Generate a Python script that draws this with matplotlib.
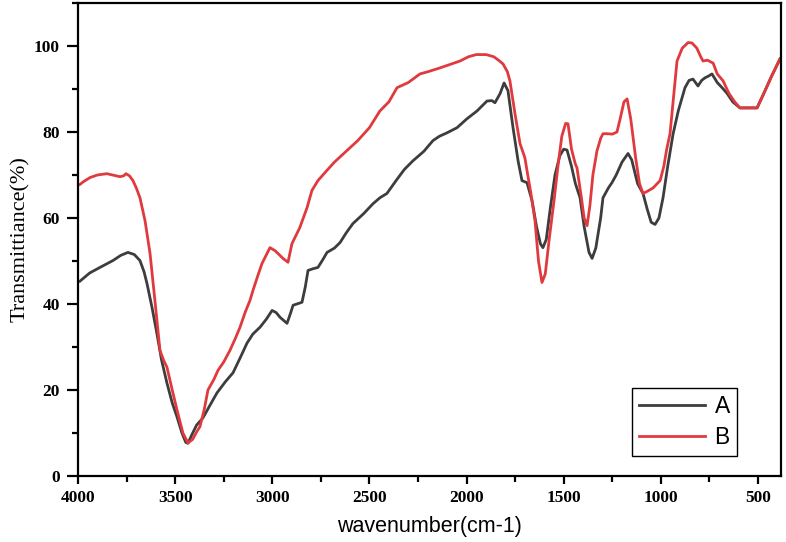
import numpy as np
import matplotlib
matplotlib.use("Agg")
import matplotlib.pyplot as plt
from matplotlib.ticker import MultipleLocator

# sample A (dark gray)
wn_a = [3990, 3940, 3887, 3820, 3780, 3743, 3710, 3681, 3660, 3645, 3619, 3594, 3570,
        3542, 3515, 3490, 3465, 3445, 3434, 3415, 3390, 3357, 3320, 3285, 3240, 3202,
        3165, 3130, 3100, 3063, 3030, 3001, 2980, 2960, 2924, 2905, 2893, 2847, 2830,
        2816, 2790, 2765, 2740, 2718, 2680, 2651, 2620, 2585, 2530, 2482, 2446, 2410,
        2358, 2320, 2276, 2220, 2173, 2140, 2101, 2049, 2000, 1946, 1895, 1870, 1854,
        1828, 1807, 1787, 1761, 1735, 1715, 1689, 1663, 1640, 1620, 1607, 1590, 1570,
        1545, 1520, 1500, 1483, 1460, 1440, 1416, 1395, 1370, 1354, 1335, 1310, 1298,
        1270, 1252, 1230, 1200, 1169, 1150, 1120, 1092, 1070, 1050, 1030, 1010, 989,
        965, 937, 910, 876, 855, 835, 809, 790, 773, 755, 737, 710, 685, 660, 630,
        593, 560, 505, 470, 430, 387]
t_a = [45.3, 47.2, 48.5, 50.1, 51.3, 52.0, 51.5, 50.1, 47.5, 44.8, 39.2, 33.2, 27.0,
       21.6, 17.0, 13.7, 10.0, 7.8, 7.6, 9.5, 11.8, 13.5, 16.5, 19.3, 22.0, 24.0,
       27.5, 30.9, 33.0, 34.6, 36.5, 38.5, 38.0, 36.9, 35.5, 38.0, 39.7, 40.4, 44.0,
       47.8, 48.2, 48.5, 50.3, 52.0, 53.0, 54.3, 56.5, 58.7, 61.0, 63.3, 64.7, 65.7,
       69.0, 71.3, 73.3, 75.5, 78.0, 79.0, 79.8, 81.0, 83.0, 84.9, 87.2, 87.3, 86.8,
       88.9, 91.4, 89.6, 81.0, 73.3, 68.7, 68.2, 64.0, 58.0, 54.0, 53.1, 55.0, 62.0,
       70.0, 74.5, 76.0, 75.8, 72.0, 68.0, 64.7, 58.0, 52.0, 50.6, 53.0, 60.0, 64.7,
       67.0, 68.2, 70.0, 73.0, 75.0, 73.5, 68.0, 65.7, 62.0, 59.0, 58.5, 60.0, 64.7,
       72.0, 79.6, 85.0, 90.3, 92.0, 92.3, 90.7, 92.0, 92.6, 93.0, 93.5, 91.5, 90.3,
       89.0, 87.0, 85.6, 85.6, 85.6, 89.0, 93.0, 97.0]

# sample B (red)
wn_b = [3990, 3970, 3938, 3900, 3851, 3784, 3765, 3753, 3735, 3717, 3700, 3681, 3655,
        3629, 3604, 3578, 3560, 3542, 3515, 3490, 3460, 3434, 3410, 3390, 3372, 3350,
        3331, 3300, 3279, 3250, 3218, 3190, 3166, 3140, 3115, 3099, 3075, 3053, 3030,
        3012, 2986, 2965, 2945, 2919, 2899, 2858, 2821, 2796, 2765, 2720, 2680, 2620,
        2560, 2500, 2446, 2400, 2358, 2300, 2240, 2200, 2137, 2080, 2034, 1990, 1950,
        1900, 1860, 1830, 1812, 1790, 1777, 1750, 1725, 1700, 1689, 1670, 1648, 1630,
        1612, 1595, 1575, 1550, 1530, 1510, 1490, 1478, 1460, 1440, 1432, 1410, 1395,
        1380, 1365, 1350, 1329, 1310, 1298, 1277, 1250, 1226, 1210, 1190, 1174, 1155,
        1130, 1110, 1092, 1070, 1040, 1004, 985, 970, 953, 935, 917, 890, 860, 840,
        815, 795, 783, 760, 740, 731, 710, 680, 650, 620, 593, 505, 470, 430, 387]
t_b = [67.8, 68.5, 69.4, 70.0, 70.3, 69.6, 69.8, 70.3, 69.8, 68.7, 67.0, 64.7, 59.4,
       51.7, 40.8, 29.2, 27.0, 25.3, 20.0, 15.3, 10.0, 7.7, 8.5, 10.2, 11.5, 15.5,
       20.0, 22.5, 24.6, 26.5, 29.2, 32.0, 34.6, 38.0, 40.8, 43.2, 46.5, 49.4, 51.5,
       53.1, 52.4, 51.5, 50.6, 49.7, 54.0, 57.8, 62.4, 66.4, 68.7, 71.0, 73.0, 75.5,
       78.0, 81.0, 84.9, 87.0, 90.3, 91.5, 93.5, 94.0, 94.9, 95.8, 96.5, 97.5, 98.0,
       98.0, 97.5, 96.5, 95.8, 94.0, 91.9, 84.0, 77.3, 74.0, 71.0, 66.0, 59.4, 50.0,
       45.0, 47.0, 55.0, 64.0, 72.0, 79.0, 82.0, 81.9, 76.0, 72.5, 71.7, 65.0, 60.0,
       58.2, 63.0, 70.0, 75.6, 78.5, 79.6, 79.6, 79.5, 80.0, 83.0, 87.0, 87.7, 83.0,
       74.0, 68.0, 65.7, 66.2, 67.0, 68.7, 72.0, 76.0, 79.6, 88.0, 96.5, 99.5, 100.8, 100.7,
       99.5, 97.5, 96.5, 96.7, 96.2, 96.0, 93.5, 91.9, 89.0, 87.0, 85.6, 85.6, 89.0, 93.0, 97.0]

x_ticks = [4000, 3500, 3000, 2500, 2000, 1500, 1000, 500]
y_ticks = [0, 20, 40, 60, 80, 100]

fig = plt.figure(figsize=(7.86, 5.42), dpi=100)
ax = fig.add_axes([0.0992, 0.1218, 0.8944, 0.8727])

ax.plot(wn_a, t_a, color="#3d3d3d", lw=2.0, label="A")
ax.plot(wn_b, t_b, color="#e03a3e", lw=2.0, label="B")

ax.set_xlim(4000, 382)
ax.set_ylim(0, 110)
ax.set_xticks(x_ticks)
ax.set_yticks(y_ticks)
ax.xaxis.set_minor_locator(MultipleLocator(250))
ax.yaxis.set_minor_locator(MultipleLocator(10))

for s in ax.spines.values():
    s.set_linewidth(1.6)
ax.tick_params(which="major", direction="out", length=6, width=1.6, pad=4)
ax.tick_params(which="minor", direction="out", length=4, width=1.6)
ax.tick_params(axis="y", which="major", length=8, pad=5)

serif = ["Liberation Serif", "DejaVu Serif"]
for lab in ax.get_xticklabels() + ax.get_yticklabels():
    lab.set_fontfamily(serif)
    lab.set_fontweight("bold")
    lab.set_fontsize(12.5)

ax.set_xlabel("wavenumber(cm-1)", fontfamily="Liberation Sans", fontsize=15.5, labelpad=7)
ax.set_ylabel("Transmittiance(%)", fontfamily=serif, fontsize=16, labelpad=3)

leg = ax.legend(loc="lower right", bbox_to_anchor=(0.937, 0.042), frameon=True,
                fancybox=False, edgecolor="black", framealpha=1,
                prop={"family": "Liberation Sans", "size": 16.5},
                handlelength=2.9, handletextpad=0.4, borderpad=0.3,
                labelspacing=0.35, borderaxespad=0)
leg.get_frame().set_linewidth(1.0)

fig.savefig("out.png", dpi=100)
